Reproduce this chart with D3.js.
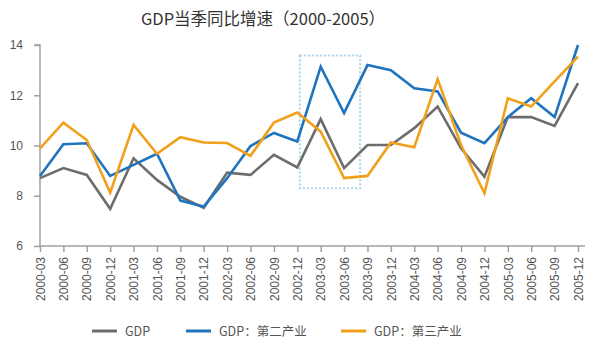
<!DOCTYPE html>
<html><head><meta charset="utf-8">
<script src="https://cdn.jsdelivr.net/npm/d3@7/dist/d3.min.js"></script>
<style>body{margin:0;background:#fff}svg{display:block;font-family:"Noto Sans CJK SC","Noto Sans",sans-serif}</style>
</head><body><svg id="c" width="600" height="351"></svg>
<script>
const categories=["2000-03","2000-06","2000-09","2000-12","2001-03","2001-06","2001-09","2001-12","2002-03","2002-06","2002-09","2002-12","2003-03","2003-06","2003-09","2003-12","2004-03","2004-06","2004-09","2004-12","2005-03","2005-06","2005-09","2005-12"];
const gdp=[8.70,9.10,8.83,7.48,9.49,8.63,7.96,7.52,8.92,8.83,9.63,9.13,11.05,9.10,10.02,10.02,10.69,11.55,9.89,8.76,11.13,11.13,10.78,12.48];
const secondary=[8.79,10.05,10.09,8.79,9.23,9.67,7.81,7.57,8.70,9.98,10.50,10.16,13.14,11.29,13.20,13.00,12.28,12.15,10.51,10.09,11.13,11.88,11.13,14.00];
const tertiary=[9.89,10.91,10.22,8.12,10.82,9.67,10.33,10.12,10.10,9.59,10.91,11.31,10.55,8.70,8.79,10.12,9.93,12.64,10.02,8.10,11.88,11.55,12.55,13.54];
const yTicks=[6,8,10,12,14];
const seriesNames=["GDP","GDP：第二产业","GDP：第三产业"];
const colors=["#6d6d6d","#1f74bd","#f0a01a"];
const highlight=["2002-12","2003-06"];

const svg=d3.select("#c");
const x=d3.scalePoint().domain(categories).range([40,578]);
const y=d3.scaleLinear().domain([6,14]).range([246,45]);

svg.append("text").attr("x",263).attr("y",25).attr("text-anchor","middle")
  .attr("font-size",16.5).attr("fill","#333").text("GDP当季同比增速（2000-2005）");

// y axis
const ya=svg.append("g").attr("transform","translate(40,0)").call(d3.axisLeft(y).tickValues(yTicks).tickSize(6).tickPadding(11));
ya.select(".domain").attr("stroke","#a0a0a0").attr("stroke-width",1.5).attr("d","M-6,45H0V246");
ya.selectAll(".tick line").attr("stroke","#a0a0a0").attr("stroke-width",1.5);
ya.selectAll(".tick text").attr("fill","#555").attr("font-size",12);

// x axis
const xa=svg.append("g").attr("transform","translate(0,246)").call(d3.axisBottom(x).tickSize(6).tickPadding(5));
xa.select(".domain").attr("stroke","#a0a0a0").attr("stroke-width",1.5).attr("d","M40,0H585");
xa.selectAll(".tick line").attr("stroke","#a0a0a0").attr("stroke-width",1.5);
xa.selectAll(".tick text").attr("fill","#555").attr("font-size",12)
  .attr("transform","rotate(-90)").attr("text-anchor","end").attr("x",-11).attr("y",0).attr("dy","0.35em");

// highlight box
const bx0=x(highlight[0])+2.5, bx1=x(highlight[1])+16;
svg.append("rect").attr("x",bx0).attr("y",y(14)+10.5).attr("width",bx1-bx0).attr("height",y(8.3)-(y(14)+10.5))
  .attr("fill","none").attr("stroke","#a9d3ea").attr("stroke-width",2).attr("stroke-dasharray","2,2");

const line=d3.line().x((d,i)=>x(categories[i])).y(d=>y(d));
[gdp,secondary,tertiary].forEach((s,i)=>{
  svg.append("path").attr("d",line(s)).attr("fill","none").attr("stroke",colors[i]).attr("stroke-width",2.6).attr("stroke-linejoin","miter");
});

// legend
const lx=[92,186,341];
seriesNames.forEach((n,i)=>{
  svg.append("line").attr("x1",lx[i]).attr("x2",lx[i]+25).attr("y1",331).attr("y2",331).attr("stroke",colors[i]).attr("stroke-width",3);
  svg.append("text").attr("x",lx[i]+33).attr("y",336).attr("font-size",12.5).attr("fill","#555").text(n);
});
</script></body></html>
